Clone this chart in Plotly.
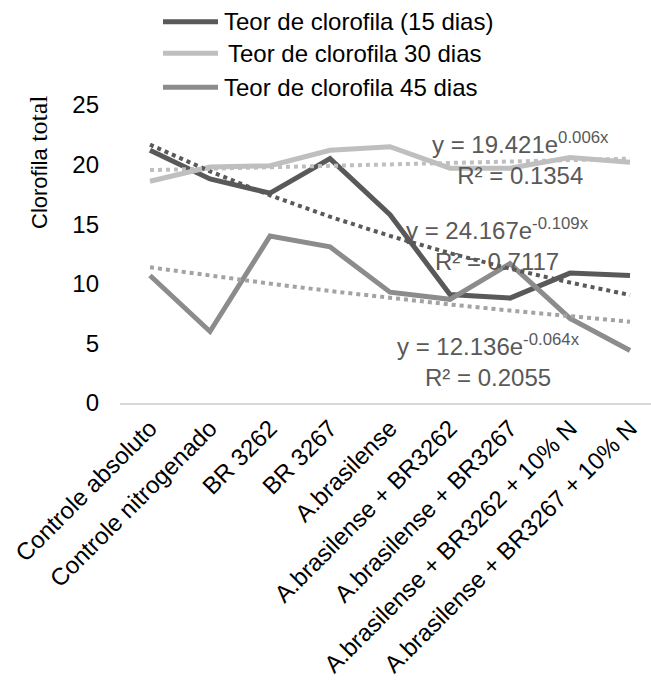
import numpy as np
import plotly.graph_objects as go

categories = ["Controle absoluto", "Controle nitrogenado", "BR 3262", "BR 3267",
              "A.brasilense", "A.brasilense + BR3262", "A.brasilense + BR3267",
              "A.brasilense + BR3262 + 10% N", "A.brasilense + BR3267 + 10% N"]
dias15 = [21.2, 18.8, 17.6, 20.5, 15.8, 9.1, 8.8, 10.9, 10.7]
dias30 = [18.6, 19.8, 19.9, 21.2, 21.5, 19.7, 19.7, 20.6, 20.2]
dias45 = [10.7, 6.0, 14.0, 13.1, 9.3, 8.7, 11.7, 7.1, 4.4]
series_names = ["Teor de clorofila (15 dias)", "Teor de clorofila 30 dias", "Teor de clorofila 45 dias"]
trend_a = [24.167, 19.421, 12.136]
trend_b = [-0.109, 0.006, -0.064]
trend_r2 = ["0.7117", "0.1354", "0.2055"]
yticks = [0, 5, 10, 15, 20, 25]

colors = ["#595959", "#bfbfbf", "#8c8c8c"]
trend_colors = ["#595959", "#bfbfbf", "#a3a3a3"]
FONT = "Liberation Sans, Arial, sans-serif"

W, H = 651, 684
L, R, T, B = 120, 0, 105, 281
pw, ph = W - L - R, H - T - B

def px(x):
    return (x - L) / pw

def py(y):
    return (H - B - y) / ph

fig = go.Figure()
data = [dias15, dias30, dias45]
for vals, name, c in zip(data, series_names, colors):
    fig.add_trace(go.Scatter(x=categories, y=vals, mode="lines", name=name,
                             line=dict(color=c, width=5), showlegend=False))

xn = np.arange(1, len(categories) + 1)
for a, b, c in zip(trend_a, trend_b, trend_colors):
    fig.add_trace(go.Scatter(x=categories, y=a * np.exp(b * xn), mode="lines",
                             line=dict(color=c, width=4, dash="4px,4px"),
                             showlegend=False))

# equation annotations
eq_pos = [(497, 244), (520, 158), (488, 360)]
for a, b, r2, (ex, ey) in zip(trend_a, trend_b, trend_r2, eq_pos):
    bs = f"{b:.3f}"
    fig.add_annotation(x=px(ex), y=py(ey), xref="paper", yref="paper",
                       text=f"y = {a:.3f}e<sup>{bs}x</sup><br>R² = {r2}",
                       showarrow=False, xanchor="center", yanchor="middle",
                       align="center", font=dict(family=FONT, size=24, color="#595959"))

# manual legend
leg_y = [21.7, 53.3, 87.3]
leg_tx = [222, 226, 222]
for name, c, ly, tx in zip(series_names, colors, leg_y, leg_tx):
    fig.add_shape(type="line", xref="paper", yref="paper",
                  x0=px(163), x1=px(218), y0=py(ly), y1=py(ly),
                  line=dict(color=c, width=5))
    fig.add_annotation(x=px(tx), y=py(ly), xref="paper", yref="paper", text=name,
                       showarrow=False, xanchor="left", yanchor="middle",
                       font=dict(family=FONT, size=24, color="#000000"))

# y title
fig.add_annotation(x=px(38), y=py(163), xref="paper", yref="paper",
                   text='Clorofila<span style="font-family:Liberation Serif;font-size:26px"> total</span>',
                   textangle=-90, showarrow=False, xanchor="center", yanchor="middle",
                   font=dict(family=FONT, size=22, color="#000000"))

fig.update_layout(
    width=W, height=H, margin=dict(l=L, r=R, t=T, b=B, autoexpand=False),
    paper_bgcolor="white", plot_bgcolor="white",
    font=dict(family=FONT, size=24, color="#000000"),
    xaxis=dict(range=[-0.5, 8.35], tickangle=-45, showgrid=False, zeroline=False,
               showline=True, linecolor="#d9d9d9", linewidth=1.5, ticks="",
               tickfont=dict(family=FONT, size=24, color="#000000")),
    yaxis=dict(range=[0, 25], tickvals=yticks, showgrid=False, zeroline=False,
               showline=False, ticks="", ticklabelstandoff=20,
               tickfont=dict(family=FONT, size=24, color="#000000")),
)
fig.write_html("out.html")
